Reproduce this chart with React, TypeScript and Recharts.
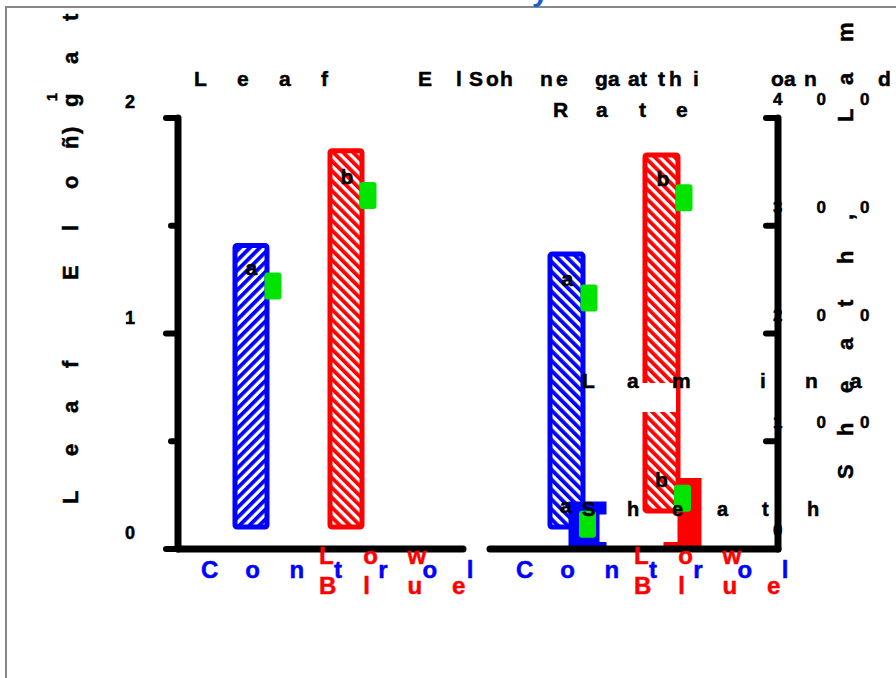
import React from 'react'
import { ComposedChart, Bar, XAxis, YAxis } from 'recharts'

// ─── Colours / font ───────────────────────────────────────────────────────────

const FONT = '"Liberation Sans", Arial, Helvetica, sans-serif'
const BLUE = '#0000ff'
const RED = '#ff0000'
const GREEN = '#00e400'
const INK = '#000000'
const HEAVY = 0.5 // extra stroke so the glyphs come out as heavy as the original

// ─── Data ─────────────────────────────────────────────────────────────────────

const categories = ['Control', 'Low Blue']
const categoryColors = [BLUE, RED]

// left panel: leaf elongation rate
const elongLow = [0.09, 0.09]
const elongHigh = [1.42, 1.86]
const elongMark = [1.22, 1.64]
const elongLetters = ['a', 'b']

// right panel: lamina and sheath
const laminaLow = [18, 33]
const laminaHigh = [276, 368]
const laminaMark = [233, 326]
const laminaLetters = ['a', 'b']

const sheathLow = [0, 0]
const sheathHigh = [44, 66]
const sheathMark = [23, 47]
const sheathLetters = ['a', 'b']

const leftTicks = [0, 0.5, 1, 1.5, 2]
const rightTicks = [0, 100, 200, 300, 400]

// ─── Text layout (the figure places every glyph on its own) ───────────────────

const titleLine1 = 'LeafElSohnegaatthioand'
const titleLine1X = [194, 237, 279, 321, 418, 456, 469, 486, 500, 540, 556, 595, 608, 628, 640, 658, 669, 693, 771, 784, 804, 878]
const titleLine2 = 'Rate'
const titleLine2X = [553, 596, 639, 676]
const leftLabel = 'LeafEloñ)gat'
const leftLabelY = [504, 456, 413, 368, 280, 231, 189, 149, 134, 107, 64, 21]
const rightLabel = 'Sheath,Lam'
const rightLabelY = [479, 436, 393, 350, 307, 264, 220, 122, 85, 42]
const laminaNote = 'Lamina'
const laminaNoteX = [582, 627, 672, 760, 805, 850]
const sheathNote = 'Sheath'
const sheathNoteX = [582, 627, 672, 717, 762, 807]

const GLYPH_STEP = 44.3
const labelStart = [-50, -27]

const xs = (s: string, start: number) =>
  s.split('').map((_, j) => (start + j * GLYPH_STEP).toFixed(1)).join(' ')

// ─── Ticks ────────────────────────────────────────────────────────────────────

function LeftTick({ x, y, payload }: any) {
  const v = payload.value
  const major = Number.isInteger(v)
  return (
    <g>
      <line x1={x - (major ? 12 : 7)} y1={y} x2={x} y2={y} stroke={INK} strokeWidth={6} strokeLinecap="round" />
      {major && (
        <text x={x - 48} y={y - 10} textAnchor="middle" fontFamily={FONT} fontWeight="bold" fontSize={18}
          fill={INK} stroke={INK} strokeWidth={HEAVY}>
          {v}
        </text>
      )}
    </g>
  )
}

function RightTick({ x, y, payload }: any) {
  const s = String(payload.value)
  return (
    <g>
      <line x1={x - 12} y1={y} x2={x} y2={y} stroke={INK} strokeWidth={6} strokeLinecap="round" />
      <text x={s.split('').map((_, j) => x - 5 + j * 43.5).join(' ')} y={y - 13} fontFamily={FONT} fontWeight="bold"
        fontSize={17} fill={INK} stroke={INK} strokeWidth={HEAVY}>
        {s}
      </text>
    </g>
  )
}

function CategoryTick({ x, y, payload, shift }: any) {
  const i = categories.indexOf(payload.value)
  const words = String(payload.value).split(' ')
  const baselines = words.length === 1 ? [29] : [15, 45]
  return (
    <g>
      {words.map((w, k) => (
        <text
          key={k}
          x={xs(w, x + shift + labelStart[i])}
          y={y + baselines[k]}
          fontFamily={FONT}
          fontWeight="bold"
          fontSize={24}
          fill={categoryColors[i]}
          stroke={categoryColors[i]}
          strokeWidth={HEAVY}
        >
          {w}
        </text>
      ))}
    </g>
  )
}

// ─── Bar shapes ───────────────────────────────────────────────────────────────

function markAndLetter(mx: number, my: number, letter: string) {
  return (
    <>
      <text x={mx - 19} y={my - 11.5} fontFamily={FONT} fontWeight="bold" fontSize={21}
        fill={INK} stroke={INK} strokeWidth={HEAVY}>
        {letter}
      </text>
      <rect x={mx} y={my - 13.5} width={17} height={27} rx={3} fill={GREEN} />
    </>
  )
}

const hatched = (lows: number[], highs: number[], marks: number[], letters: string[], patterns: string[]) =>
  (p: any) => {
    const { x, y, width, height, payload } = p
    const i = categories.indexOf(payload.name)
    const ppu = height / (highs[i] - lows[i])
    const my = y + (highs[i] - marks[i]) * ppu
    const sw = 5
    return (
      <g>
        <rect
          x={x + sw / 2}
          y={y + sw / 2}
          width={width - sw}
          height={height - sw}
          rx={2}
          fill={`url(#${patterns[i]})`}
          stroke={categoryColors[i]}
          strokeWidth={sw}
        />
        {markAndLetter(x + width - 5, my, letters[i])}
      </g>
    )
  }

function sheathShape(p: any) {
  const { x, y, width, height, payload } = p
  const i = categories.indexOf(payload.name)
  const ppu = height / (sheathHigh[i] - sheathLow[i])
  const my = y + (sheathHigh[i] - sheathMark[i]) * ppu
  const h = height + 3
  const outer = `M${x},${y}h${width}v${h}h${-width}Z`
  const notch = i === 0
    ? `M${x + width - 7},${y + 13}h7v${h - 23}h-7Z`
    : `M${x},${y}h14v${h - 10}h-14Z`
  return (
    <g>
      <path d={`${outer} ${notch}`} fill={categoryColors[i]} fillRule="evenodd" />
      {markAndLetter(x + width / 2 - 8.5, my, sheathLetters[i])}
    </g>
  )
}

// ─── Component ────────────────────────────────────────────────────────────────

const axisLine = { stroke: INK, strokeWidth: 7, strokeLinecap: 'round' as const }

function Hatch({ id, color, angle }: { id: string; color: string; angle: number }) {
  return (
    <pattern id={id} patternUnits="userSpaceOnUse" width={7} height={7} patternTransform={`rotate(${angle})`}>
      <rect width={7} height={7} fill="#fff" />
      <rect width={3.8} height={7} fill={color} />
    </pattern>
  )
}

export default function App() {
  const leftData = categories.map((name, i) => ({ name, elong: [elongLow[i], elongHigh[i]] }))
  const rightData = categories.map((name, i) => ({
    name,
    lamina: [laminaLow[i], laminaHigh[i]],
    sheath: [sheathLow[i], sheathHigh[i]],
  }))

  return (
    <div style={{ position: 'absolute', left: 0, top: 0, width: 896, height: 678, background: '#fff', overflow: 'hidden' }}>
      <svg width={0} height={0} style={{ position: 'absolute' }}>
        <defs>
          <Hatch id="hatchBlueF" color={BLUE} angle={45} />
          <Hatch id="hatchBlueB" color={BLUE} angle={-45} />
          <Hatch id="hatchRedB" color={RED} angle={-45} />
        </defs>
      </svg>

      {/* Leaf elongation panel */}
      <div style={{ position: 'absolute', left: 0, top: 0 }}>
        <ComposedChart width={896} height={678} data={leftData} margin={{ top: 118, right: 433, bottom: 99, left: 128 }}>
          <XAxis
            dataKey="name"
            height={30}
            padding={{ left: 25.5, right: 69.5 }}
            axisLine={axisLine}
            tickLine={false}
            tickSize={0}
            tickMargin={0}
            interval={0}
            tick={(p: any) => <CategoryTick {...p} shift={0} />}
          />
          <YAxis
            width={50}
            domain={[0, 2]}
            ticks={leftTicks}
            interval={0}
            axisLine={axisLine}
            tickLine={false}
            tickSize={0}
            tickMargin={0}
            tick={(p: any) => <LeftTick {...p} />}
          />
          <Bar
            dataKey="elong"
            barSize={37}
            isAnimationActive={false}
            shape={hatched(elongLow, elongHigh, elongMark, elongLetters, ['hatchBlueF', 'hatchRedB'])}
          />
        </ComposedChart>
      </div>

      {/* Sheath / lamina panel */}
      <div style={{ position: 'absolute', left: 0, top: 0 }}>
        <ComposedChart
          width={896}
          height={678}
          data={rightData}
          barGap={-17}
          margin={{ top: 118, right: 68, bottom: 99, left: 490 }}
        >
          <XAxis
            dataKey="name"
            height={30}
            padding={{ left: 39.5, right: 58.5 }}
            axisLine={axisLine}
            tickLine={false}
            tickSize={0}
            tickMargin={0}
            interval={0}
            tick={(p: any) => <CategoryTick {...p} shift={-11} />}
          />
          <YAxis
            orientation="right"
            width={50}
            domain={[0, 400]}
            ticks={rightTicks}
            interval={0}
            axisLine={axisLine}
            tickLine={false}
            tickSize={0}
            tickMargin={0}
            tick={(p: any) => <RightTick {...p} />}
          />
          <Bar
            dataKey="lamina"
            barSize={38}
            isAnimationActive={false}
            shape={hatched(laminaLow, laminaHigh, laminaMark, laminaLetters, ['hatchBlueB', 'hatchRedB'])}
          />
          <Bar dataKey="sheath" barSize={38} isAnimationActive={false} shape={sheathShape} />
        </ComposedChart>
      </div>

      {/* Titles, axis labels and notes */}
      <svg width={896} height={678} style={{ position: 'absolute', left: 0, top: 0, pointerEvents: 'none' }}>
        <rect x={6} y={7} width={900} height={690} fill="none" stroke="#888" strokeWidth={2} />
        <text x={532} y={1} fontFamily={FONT} fontWeight="bold" fontSize={30} fill="#1a5fd0">y</text>

        <g fontFamily={FONT} fontWeight="bold" fill={INK} stroke={INK} strokeWidth={HEAVY}>
          <text x={titleLine1X.join(' ')} y={86} fontSize={21}>{titleLine1}</text>
          <text x={titleLine2X.join(' ')} y={117} fontSize={21}>{titleLine2}</text>

          <text transform="rotate(-90)" x={leftLabelY.map((v) => -v).join(' ')} y={78} fontSize={22}>{leftLabel}</text>
          <text transform="rotate(-90)" x={-101} y={57} fontSize={14}>1</text>
          <text transform="rotate(-90)" x={rightLabelY.map((v) => -v).join(' ')} y={853} fontSize={22}>{rightLabel}</text>

          <rect x={640} y={383} width={36} height={29} fill="#fff" stroke="none" />
          <text x={laminaNoteX.join(' ')} y={388} fontSize={21}>{laminaNote}</text>
          <text x={sheathNoteX.join(' ')} y={516} fontSize={20}>{sheathNote}</text>
        </g>
      </svg>
    </div>
  )
}
